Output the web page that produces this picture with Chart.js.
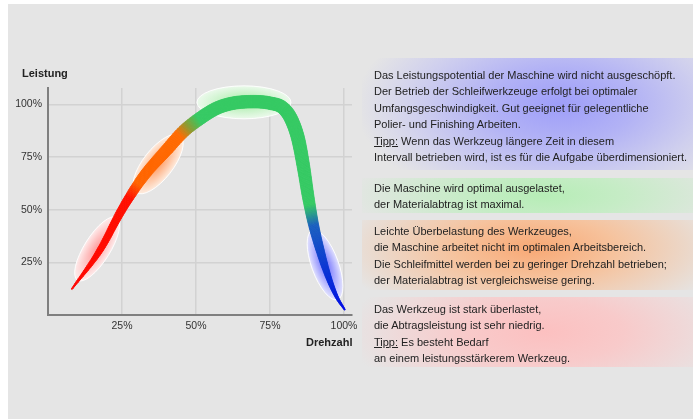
<!DOCTYPE html>
<html>
<head>
<meta charset="utf-8">
<script src="https://cdn.jsdelivr.net/npm/chart.js@4/dist/chart.umd.min.js"></script>
<style>
  html, body { margin: 0; padding: 0; background: #fff; }
  #stage { position: relative; width: 693px; height: 419px; overflow: hidden;
           font-family: "Liberation Sans", Arial, sans-serif; color: #222; }
  #bg { position: absolute; left: 8px; top: 4px; right: 0; bottom: 0; background: #e5e5e5; }
  #chartBox { position: absolute; left: 0; top: 0; width: 380px; height: 419px; }
  .axis-title { position: absolute; font-weight: bold; font-size: 11px; line-height: 13px; white-space: nowrap; }
  .panel { position: absolute; left: 362px; width: 331px; font-size: 11px; line-height: 16.5px; box-sizing: border-box; padding-left: 12px; white-space: nowrap; }
  .panel u { text-decoration: underline; }
  #p1 { top: 58px; height: 112px; padding-top: 8.7px;
        background: radial-gradient(ellipse 62% 95% at 60% 42%, #9e9ef9 0%, #b2b2f5 35%, #cfcfee 70%, #e5e5e5 100%); }
  #p2 { top: 178px; height: 35px; padding-top: 1.7px;
        background: radial-gradient(ellipse 60% 160% at 55% 50%, #b6edb6 0%, #c6ecc6 40%, #d8e8d8 75%, #e5e5e5 100%); }
  #p3 { top: 220px; height: 70px; padding-top: 2.7px;
        background: radial-gradient(ellipse 60% 110% at 52% 40%, #f8a874 0%, #f6c29c 40%, #ecd6c6 75%, #e5e5e5 100%); }
  #p4 { top: 297px; height: 70px; padding-top: 3.7px;
        background: radial-gradient(ellipse 60% 110% at 55% 50%, #fcc0c0 0%, #f8caca 40%, #eedada 75%, #e5e5e5 100%); }
</style>
</head>
<body>
<div id="stage">
  <div id="bg"></div>
  <div id="chartBox"><canvas id="chart" width="380" height="419"></canvas></div>
  <div class="axis-title" style="left:22px; top:67px;">Leistung</div>
  <div class="axis-title" style="left:306px; top:336px;">Drehzahl</div>

  <div class="panel" id="p1">
    Das Leistungspotential der Maschine wird nicht ausgeschöpft.<br>
    Der Betrieb der Schleifwerkzeuge erfolgt bei optimaler<br>
    Umfangsgeschwindigkeit. Gut geeignet für gelegentliche<br>
    Polier- und Finishing Arbeiten.<br>
    <u>Tipp:</u> Wenn das Werkzeug längere Zeit in diesem<br>
    Intervall betrieben wird, ist es für die Aufgabe überdimensioniert.
  </div>
  <div class="panel" id="p2">
    Die Maschine wird optimal ausgelastet,<br>
    der Materialabtrag ist maximal.
  </div>
  <div class="panel" id="p3">
    Leichte Überbelastung des Werkzeuges,<br>
    die Maschine arbeitet nicht im optimalen Arbeitsbereich.<br>
    Die Schleifmittel werden bei zu geringer Drehzahl betrieben;<br>
    der Materialabtrag ist vergleichsweise gering.
  </div>
  <div class="panel" id="p4">
    Das Werkzeug ist stark überlastet,<br>
    die Abtragsleistung ist sehr niedrig.<br>
    <u>Tipp:</u> Es besteht Bedarf<br>
    an einem leistungsstärkerem Werkzeug.
  </div>
</div>

<script>
// Drehzahl (speed, % of max) and Leistung (power, %) along the performance curve
const drehzahl = [8.0, 17.6, 24.9, 32.2, 40.1, 45.7, 51.4, 57.0, 62.6, 69.4, 75.0,
                  79.5, 82.3, 84.6, 86.3, 87.9, 89.6, 91.9, 94.7, 97.5, 100.3];
const leistung = [12.2, 30.9, 49.9, 65.7, 78.4, 87.1, 93.4, 98.2, 100.6, 101.3, 100.6,
                  98.2, 92.6, 83.1, 70.5, 56.2, 43.6, 30.9, 18.2, 8.7, 2.4];

// Operating zones: centre of each highlighted region (Drehzahl %, Leistung %)
const zoneNames    = ['überlastet', 'leicht überlastet', 'optimal', 'unterfordert'];
const zoneDrehzahl = [16.6, 37.2, 66.2, 93.6];
const zoneLeistung = [31.4, 71.7, 101.0, 23.8];

// Axis tick values
const tickValues = [25, 50, 75, 100];

// ---- styling ----
// stroke thickness (px) of the ribbon at each curve point
const ribbonWidth = [1, 6, 8, 10, 11.5, 12, 12.5, 12.5, 12.5, 12.5, 12.5,
                     12.5, 13, 13, 12.5, 11.5, 10, 8, 5.5, 3, 1];
// ribbon colour along the curve, keyed by Drehzahl position
const ribbonStops = [
  [0, '#ff0000'], [27.5, '#ff1000'], [30.5, '#ff6400'], [44.5, '#ff6a00'],
  [47.5, '#8c9a30'], [51, '#35c963'], [88.4, '#35c963'], [89.8, '#1a5ec0'],
  [94, '#0a34d4'], [100.5, '#0008e6']
];
const zoneStyles = [
  { rx: 37, ry: 13, rot: -58, inner: 'rgba(255,150,150,0.95)', outer: 'rgba(255,236,236,0.95)' },
  { rx: 36, ry: 15, rot: -52, inner: 'rgba(255,150,90,0.95)',  outer: 'rgba(255,236,222,0.95)' },
  { rx: 47, ry: 16.5, rot: 0, inner: 'rgba(160,236,160,0.95)', outer: 'rgba(236,250,236,0.95)' },
  { rx: 37, ry: 13.5, rot: 70, inner: 'rgba(100,100,255,0.95)', outer: 'rgba(226,226,255,0.95)' }
];

function hexRgb(h) {
  return [parseInt(h.slice(1, 3), 16), parseInt(h.slice(3, 5), 16), parseInt(h.slice(5, 7), 16)];
}
const stopRgb = ribbonStops.map(([v, c]) => [v, hexRgb(c)]);
function colourAt(v) {
  if (v <= stopRgb[0][0]) return stopRgb[0][1];
  for (let i = 0; i < stopRgb.length - 1; i++) {
    const [v0, c0] = stopRgb[i], [v1, c1] = stopRgb[i + 1];
    if (v <= v1) {
      const t = (v - v0) / (v1 - v0);
      return c0.map((c, k) => Math.round(c + (c1[k] - c) * t));
    }
  }
  return stopRgb[stopRgb.length - 1][1];
}

// Soft elliptical highlights behind the curve
const zonePlugin = {
  id: 'zones',
  beforeDatasetsDraw(chart) {
    const { ctx, scales: { x, y } } = chart;
    zoneDrehzahl.forEach((dz, i) => {
      const s = zoneStyles[i];
      const cx = x.getPixelForValue(dz), cy = y.getPixelForValue(zoneLeistung[i]);
      const rot = s.rot * Math.PI / 180;
      ctx.save();
      ctx.translate(cx, cy);
      ctx.rotate(rot);
      ctx.scale(s.rx, s.ry);
      const g = ctx.createRadialGradient(0, 0, 0, 0, 0, 1);
      g.addColorStop(0, s.inner);
      g.addColorStop(1, s.outer);
      ctx.beginPath();
      ctx.arc(0, 0, 1, 0, Math.PI * 2);
      ctx.fillStyle = g;
      ctx.fill();
      ctx.restore();
      ctx.save();
      ctx.beginPath();
      ctx.ellipse(cx, cy, s.rx, s.ry, rot, 0, Math.PI * 2);
      ctx.strokeStyle = 'rgba(255,255,255,0.9)';
      ctx.lineWidth = 1;
      ctx.stroke();
      ctx.restore();
    });
  }
};

// Tapered, colour-graded ribbon along the dataset's own monotone spline
const ribbonPlugin = {
  id: 'ribbon',
  afterDatasetsDraw(chart) {
    const meta = chart.getDatasetMeta(0);
    meta.dataset.updateControlPoints(chart.chartArea, 'x');
    const pts = meta.data;
    const xs = chart.scales.x;
    const samples = [];
    const steps = 24;
    for (let i = 0; i < pts.length - 1; i++) {
      const a = pts[i], b = pts[i + 1];
      const p0 = [a.x, a.y], c1 = [a.cp2x, a.cp2y], c2 = [b.cp1x, b.cp1y], p1 = [b.x, b.y];
      for (let k = (i === 0 ? 0 : 1); k <= steps; k++) {
        const t = k / steps, u = 1 - t;
        const px = u*u*u*p0[0] + 3*u*u*t*c1[0] + 3*u*t*t*c2[0] + t*t*t*p1[0];
        const py = u*u*u*p0[1] + 3*u*u*t*c1[1] + 3*u*t*t*c2[1] + t*t*t*p1[1];
        let dx = 3*u*u*(c1[0]-p0[0]) + 6*u*t*(c2[0]-c1[0]) + 3*t*t*(p1[0]-c2[0]);
        let dy = 3*u*u*(c1[1]-p0[1]) + 6*u*t*(c2[1]-c1[1]) + 3*t*t*(p1[1]-c2[1]);
        const len = Math.hypot(dx, dy) || 1;
        dx /= len; dy /= len;
        const w = (ribbonWidth[i] * u + ribbonWidth[i + 1] * t) / 2;
        samples.push({
          l: [px - dy * w, py + dx * w],
          r: [px + dy * w, py - dx * w],
          v: xs.getValueForPixel(px)
        });
      }
    }
    const ctx = chart.ctx;
    ctx.save();
    ctx.lineJoin = 'round';
    ctx.lineWidth = 0.9;
    for (let k = 0; k < samples.length - 1; k++) {
      const s0 = samples[k], s1 = samples[k + 1];
      const c = colourAt((s0.v + s1.v) / 2);
      const col = `rgb(${c[0]},${c[1]},${c[2]})`;
      ctx.beginPath();
      ctx.moveTo(s0.l[0], s0.l[1]);
      ctx.lineTo(s1.l[0], s1.l[1]);
      ctx.lineTo(s1.r[0], s1.r[1]);
      ctx.lineTo(s0.r[0], s0.r[1]);
      ctx.closePath();
      ctx.fillStyle = col;
      ctx.strokeStyle = col;
      ctx.fill();
      ctx.stroke();
    }
    ctx.restore();
  }
};

const points = drehzahl.map((d, i) => ({ x: d, y: leistung[i] }));

new Chart(document.getElementById('chart'), {
  type: 'line',
  data: {
    datasets: [{
      label: 'Leistung',
      data: points,
      borderColor: 'rgba(0,0,0,0)',
      borderWidth: 0,
      cubicInterpolationMode: 'monotone',
      pointRadius: 0,
      fill: false
    }]
  },
  options: {
    responsive: false,
    animation: false,
    layout: { padding: { left: 0, top: 88, right: 28, bottom: 0 } },
    plugins: { legend: { display: false }, tooltip: { enabled: false } },
    scales: {
      x: {
        type: 'linear', min: 0, max: 102.7,
        afterBuildTicks: s => { s.ticks = tickValues.map(v => ({ value: v })); },
        afterFit: s => { s.height = 104; },
        grid: { color: '#d2d2d2', lineWidth: 1.5, drawTicks: false },
        border: { color: '#7f7f7f', width: 2 },
        ticks: { padding: 5, color: '#333', font: { family: 'Liberation Sans', size: 10.5 },
                 callback: v => v + '%', maxRotation: 0 }
      },
      y: {
        type: 'linear', min: 0, max: 107.8,
        afterBuildTicks: s => { s.ticks = tickValues.map(v => ({ value: v })); },
        afterFit: s => { s.width = 48; },
        grid: { color: '#d2d2d2', lineWidth: 1.5, drawTicks: false },
        border: { color: '#7f7f7f', width: 2 },
        ticks: { padding: 6, color: '#333', font: { family: 'Liberation Sans', size: 10.5 },
                 callback: v => v + '%' }
      }
    }
  },
  plugins: [zonePlugin, ribbonPlugin]
});
</script>
</body>
</html>
